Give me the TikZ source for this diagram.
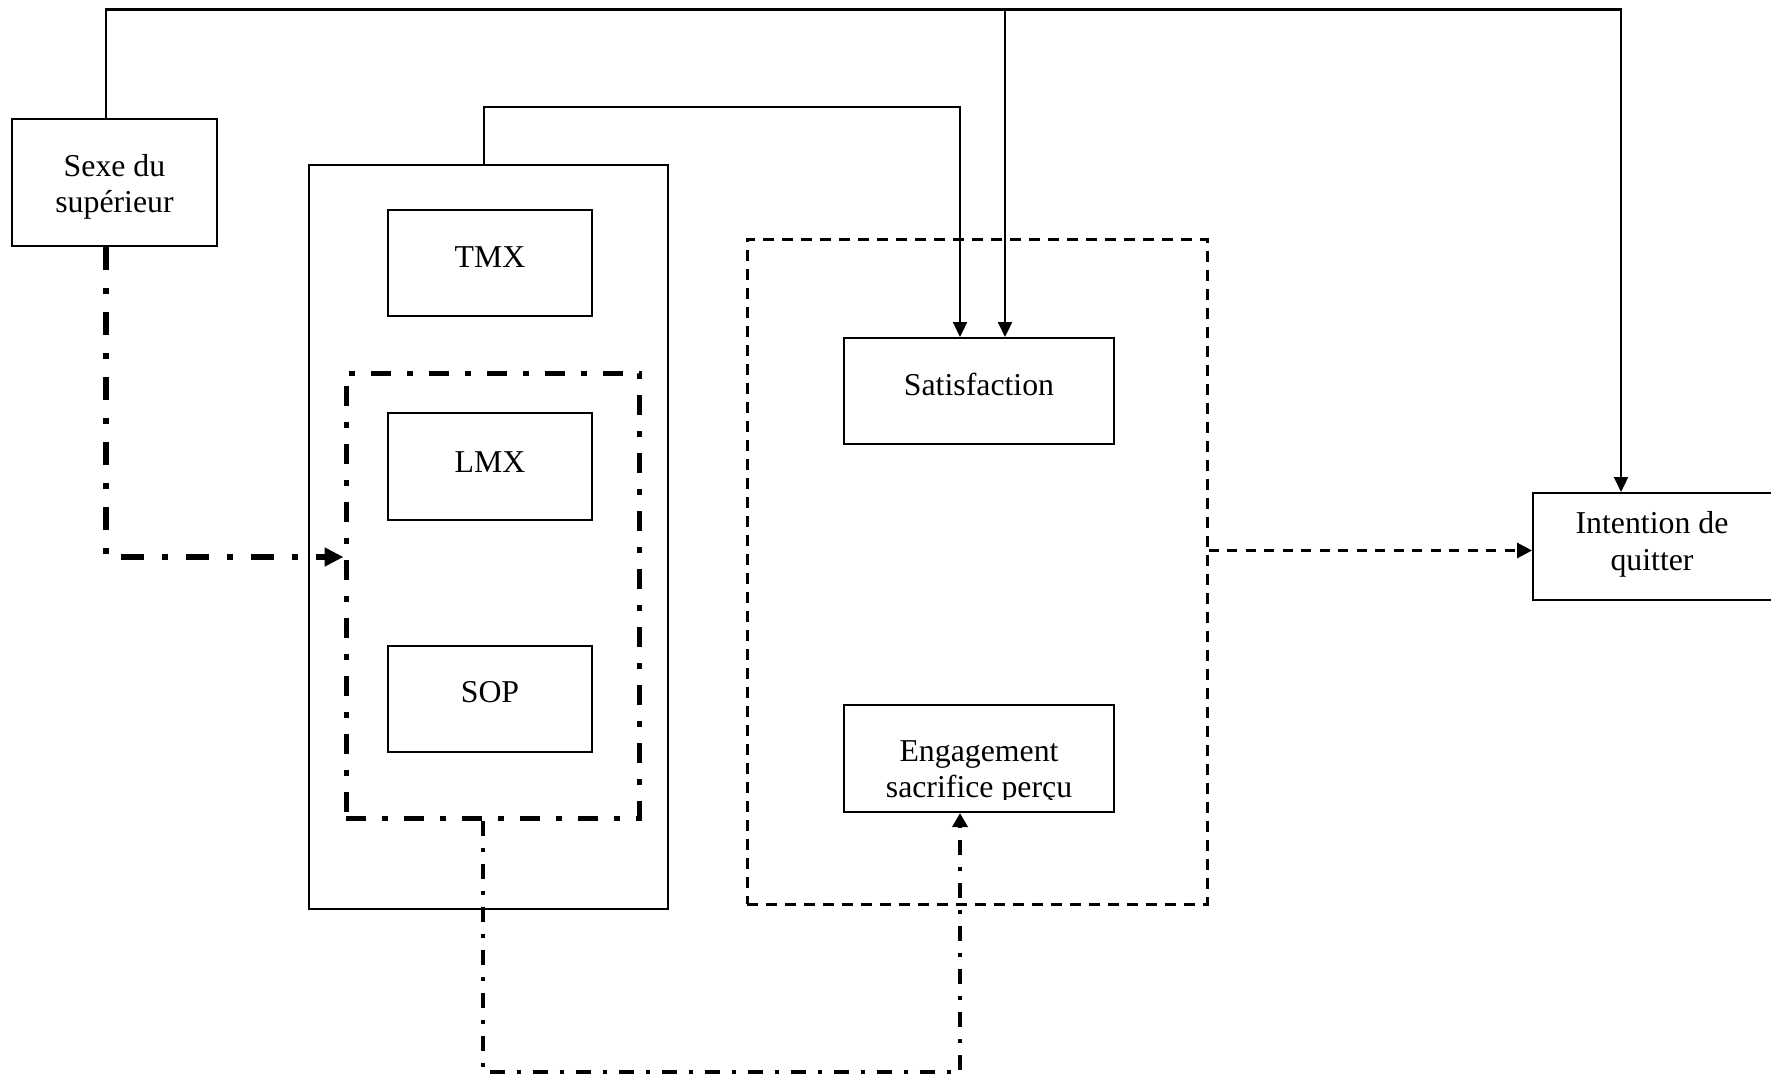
\documentclass[tikz,border=0pt]{standalone}
\usepackage{fontspec}
\setmainfont{Liberation Serif}
\usetikzlibrary{arrows.meta}
\tikzset{
  box/.style={draw, rectangle, line width=2pt, inner sep=0pt},
  lbl/.style={anchor=base, inner sep=0pt, font=\fontsize{31.8}{36}\selectfont},
  conn/.style={line width=2.2pt, -{Triangle[length=15pt,width=14pt]}},
  thickdd/.style={line width=6pt, dash pattern=on 23pt off 18pt on 6pt off 18pt},
  ddbox/.style={draw, rectangle, inner sep=0pt, line width=5pt, dash pattern=on 20pt off 16pt on 6pt off 16pt},
  middd/.style={line width=3.5pt, dash pattern=on 15pt off 12pt on 4pt off 12pt},
  dbox/.style={draw, rectangle, inner sep=0pt, line width=3pt, dash pattern=on 11pt off 8pt},
  dconn/.style={line width=3pt, dash pattern=on 10pt off 8.5pt, -{Triangle[length=15pt,width=15pt]}}
}
\begin{document}
\begin{tikzpicture}[x=1pt,y=-1pt]
\useasboundingbox (0,0) rectangle (1771,1076);
\clip (0,0) rectangle (1771,1076);

% boxes
\node[box, minimum width=205pt, minimum height=127pt] (sexe) at (114.5,182.5) {};
\node[box, minimum width=359pt, minimum height=744pt] (grp) at (488.5,537) {};
\node[box, minimum width=204pt, minimum height=106pt] (tmx) at (490,263) {};
\node[box, minimum width=204pt, minimum height=107pt] (lmx) at (490,466.5) {};
\node[box, minimum width=204pt, minimum height=106pt] (sop) at (490,699) {};
\node[ddbox, minimum width=293pt, minimum height=445pt] (dd) at (492.5,595.5) {};
\node[dbox, minimum width=460pt, minimum height=665pt] (db) at (977,571.5) {};
\node[box, minimum width=270pt, minimum height=106pt] (sat) at (979,391) {};
\node[box, minimum width=270pt, minimum height=107pt] (eng) at (979,758.5) {};
\node[box, minimum width=239pt, minimum height=107pt] (int) at (1652.5,546.5) {};

% labels
\node[lbl] (sexeA) at (114.5,176) {Sexe du};
\node[lbl] (sexeB) at (114.5,212) {supérieur};
\node[lbl] (tmxT) at (490,267) {TMX};
\node[lbl] (lmxT) at (490,472) {LMX};
\node[lbl] (sopT) at (490,702) {SOP};
\node[lbl] (satT) at (979,395) {Satisfaction};
\begin{scope}
\clip (844,705) rectangle (1114,799);
\node[lbl] (engA) at (979,761) {Engagement};
\node[lbl] (engB) at (979,797) {sacrifice perçu};
\end{scope}
\node[lbl] (intA) at (1652,533) {Intention de};
\node[lbl] (intB) at (1652,570) {quitter};

% bend points
\coordinate (topjoin) at (1005,9.5);
\coordinate (g1) at (960,107);
\coordinate (b1) at (720,1072);

% solid connectors
\draw[conn] ([xshift=-8.5pt]sexe.north) |- (topjoin) -| ([xshift=-31.5pt]int.north);
\draw[conn] (topjoin) -- ([xshift=26pt]sat.north);
\draw[conn] ([xshift=-4.5pt]grp.north) |- (g1) -- ([xshift=-19pt]sat.north);

% dash-dot connectors
\draw[thickdd, -{Triangle[length=19pt,width=18pt]}] ([xshift=-8.5pt]sexe.south) |- ([yshift=38.5pt]dd.west);
\draw[middd, -{Triangle[length=14pt,width=15pt]}] ([xshift=-9.5pt]dd.south) |- (b1) -| ([xshift=-19pt]eng.south);

% dashed connector
\draw[dconn] ([yshift=21pt]db.east) -- ([yshift=21pt]db.east -| int.west);
\end{tikzpicture}
\end{document}
